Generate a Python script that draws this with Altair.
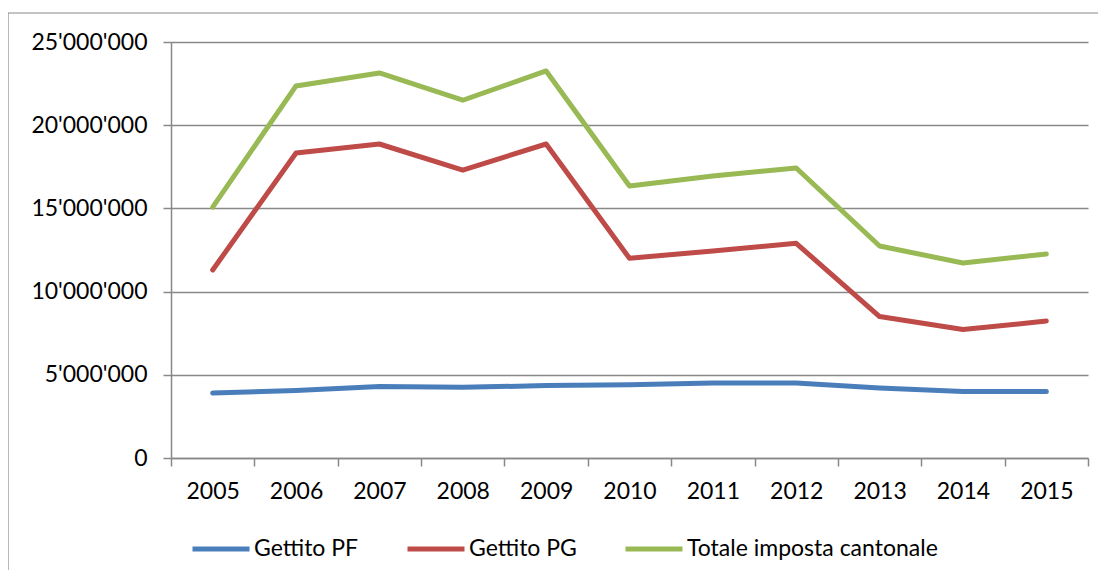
import altair as alt
import pandas as pd

years = ["2005", "2006", "2007", "2008", "2009", "2010", "2011", "2012", "2013", "2014", "2015"]
gettito_pf = [3900000, 4050000, 4300000, 4250000, 4350000, 4400000, 4500000, 4500000, 4200000, 4000000, 4000000]
gettito_pg = [11300000, 18330000, 18870000, 17300000, 18870000, 12000000, 12440000, 12900000, 8500000, 7720000, 8230000]
totale = [15080000, 22360000, 23140000, 21500000, 23260000, 16350000, 16950000, 17430000, 12740000, 11720000, 12260000]

series_names = ["Gettito PF", "Gettito PG", "Totale imposta cantonale"]
series_colors = ["#4a7ebb", "#be4b48", "#98b954"]
y_ticks = [0, 5000000, 10000000, 15000000, 20000000, 25000000]

rows = []
for name, vals in zip(series_names, [gettito_pf, gettito_pg, totale]):
    for yr, v in zip(years, vals):
        rows.append({"Anno": yr, "Valore": v, "Serie": name})
df = pd.DataFrame(rows)

FONT = "Lato"
GRAY = "#888888"

lines = alt.Chart(df).mark_line(strokeWidth=5, strokeCap="round", strokeJoin="round").encode(
    x=alt.X("Anno:O", bandPosition=0.5, sort=years,
            scale=alt.Scale(type="band", domain=years, paddingInner=0, paddingOuter=0),
            axis=alt.Axis(title=None, labelAngle=0, tickBand="extent", grid=False,
                          domainColor=GRAY, domainWidth=1.5, tickColor=GRAY, tickWidth=1.5,
                          tickSize=8, labelPadding=14, labelFontSize=23, labelFont=FONT,
                          labelColor="black")),
    y=alt.Y("Valore:Q",
            scale=alt.Scale(domain=[0, 25000000], nice=False, zero=True),
            axis=alt.Axis(title=None, values=y_ticks, grid=True, gridColor=GRAY, gridWidth=1.5,
                          domainColor=GRAY, domainWidth=1.5, tickColor=GRAY, tickWidth=1.5,
                          tickSize=8, labelPadding=16, labelFontSize=23, labelFont=FONT,
                          labelColor="black",
                          labelExpr="replace(format(datum.value, ','), /,/g, \"'\")")),
    color=alt.Color("Serie:N",
                    scale=alt.Scale(domain=series_names, range=series_colors),
                    legend=alt.Legend(title=None, orient="none", direction="horizontal",
                                      legendX=19, legendY=476, symbolType="stroke",
                                      symbolSize=3249, symbolStrokeWidth=5, labelOffset=2,
                                      columnPadding=38, labelFontSize=23, labelFont=FONT,
                                      labelColor="black", labelLimit=500, padding=0)),
)

border_data = alt.Data(values=[{"k": 1}])
left_border = alt.Chart(border_data).mark_rule(color=GRAY, strokeWidth=1.2).encode(
    x=alt.value(-163), y=alt.value(-29), y2=alt.value(540))
top_border = alt.Chart(border_data).mark_rule(color=GRAY, strokeWidth=1.2).encode(
    x=alt.value(-163), x2=alt.value(940), y=alt.value(-29))

chart = alt.layer(lines, left_border, top_border).properties(
    width=917, height=416,
    autosize=alt.AutoSizeParams(type="none"),
    padding={"left": 163, "top": 34, "right": 10, "bottom": 112},
    background="white",
).configure_view(stroke=None)

chart.save("out.html", embed_options={"renderer": "svg", "actions": False})
